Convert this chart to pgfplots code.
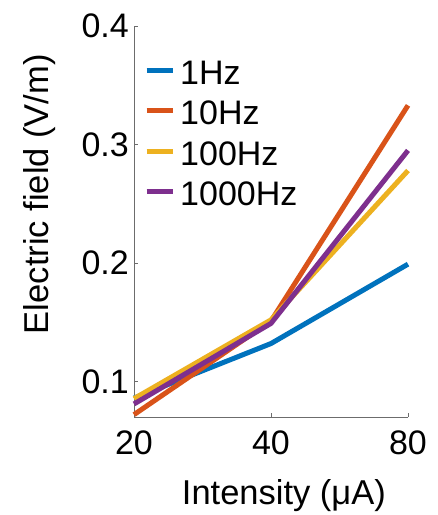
\documentclass[border=0pt]{standalone}
\usepackage{pgfplots}
\pgfplotsset{compat=1.18}
\usepackage{fontspec}
\setmainfont{Liberation Sans}
\definecolor{mblue}{rgb}{0,0.447,0.741}
\definecolor{morange}{rgb}{0.85,0.325,0.098}
\definecolor{myellow}{rgb}{0.929,0.694,0.125}
\definecolor{mpurple}{rgb}{0.494,0.184,0.556}
\begin{document}
\begin{tikzpicture}
\useasboundingbox[fill=white] (0,0) rectangle (438bp,515bp);
\begin{axis}[
  at={(134bp,98bp)}, anchor=south west,
  scale only axis, width=274bp, height=391bp,
  xmin=0, xmax=2, ymin=0.07, ymax=0.4,
  clip=false,
  axis x line*=bottom, axis y line*=left,
  axis line style={draw=gray!85!black, line width=0.8bp},
  tick align=inside, major tick length=4bp,
  tick style={draw=gray!85!black, line width=0.8bp},
  xtick={0,1,2}, xticklabels={20,40,80},
  ytick={0.1,0.2,0.3,0.4}, yticklabels={0.1,0.2,0.3,0.4},
  tick label style={font=\fontsize{34bp}{40bp}\selectfont},
  yticklabel style={inner sep=0pt, xshift=-5bp},
  xticklabel style={inner sep=0pt, yshift=-14bp},
  xlabel={Intensity (μA)},
  ylabel={Electric field (V/m)},
  label style={font=\fontsize{34.5bp}{40bp}\selectfont},
  xlabel style={at={(axis description cs:0.547,-0.225)}, anchor=base},
  ylabel style={at={(axis description cs:-0.343,0.570)}, anchor=center},
  legend style={at={(axis description cs:0.0365,0.913)}, anchor=north west,
    draw=none, fill=none, inner sep=0pt, row sep=16.5bp, column sep=5bp,
    font=\fontsize{34bp}{40bp}\selectfont,
    nodes={inner sep=0pt, text height=24bp, text depth=0pt}},
  legend cell align=left,
  legend image code/.code={\draw[#1, line width=5bp] (0bp,2bp) -- (26bp,2bp);},
  every axis plot/.append style={line width=5bp, line join=round},
]
\addplot[mblue] coordinates {(0,0.086) (1,0.132) (2,0.199)};
\addlegendentry{1Hz}
\addplot[morange] coordinates {(0,0.072) (1,0.151) (2,0.333)};
\addlegendentry{10Hz}
\addplot[myellow] coordinates {(0,0.0855) (1,0.152) (2,0.278)};
\addlegendentry{100Hz}
\addplot[mpurple] coordinates {(0,0.081) (1,0.149) (2,0.295)};
\addlegendentry{1000Hz}
\end{axis}
\end{tikzpicture}
\end{document}
